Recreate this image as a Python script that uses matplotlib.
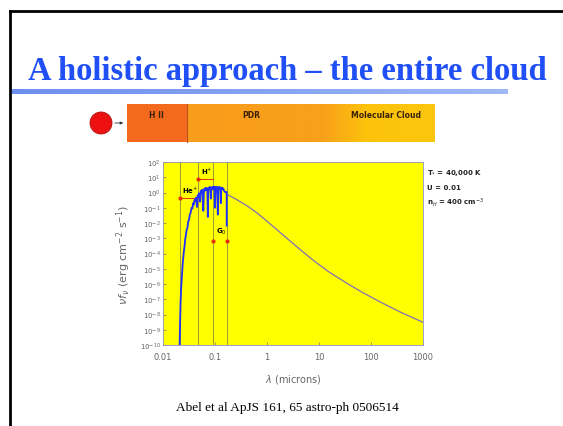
import numpy as np
import matplotlib
matplotlib.use("Agg")
import matplotlib.pyplot as plt
from matplotlib.patches import Rectangle, Circle
from matplotlib.colors import LinearSegmentedColormap

# incident + transmitted UV spectrum (log10 lambda [micron], log10 nu f_nu)
uv_loglam = [-1.680, -1.672, -1.662, -1.650, -1.635, -1.620, -1.600, -1.585,
             -1.575, -1.560, -1.548, -1.530, -1.515, -1.500, -1.485, -1.470,
             -1.450, -1.435, -1.420, -1.410, -1.395, -1.380, -1.370, -1.360,
             -1.345, -1.335, -1.320, -1.310, -1.300, -1.285, -1.275, -1.262,
             -1.250, -1.240, -1.225, -1.212, -1.200, -1.190, -1.180, -1.170,
             -1.160, -1.148, -1.138, -1.128, -1.120, -1.110, -1.100, -1.090,
             -1.080, -1.070, -1.062, -1.050, -1.040, -1.030, -1.020, -1.010,
             -1.000, -0.990, -0.980, -0.970, -0.960, -0.953, -0.946, -0.938,
             -0.930, -0.920, -0.910, -0.900, -0.889, -0.880, -0.870, -0.860,
             -0.850, -0.840, -0.830, -0.820, -0.815, -0.800, -0.785, -0.775,
             -0.775]
uv_logf = [-10.0, -8.6, -7.2, -6.2, -5.4, -4.6, -3.9, -3.5,
           -3.1, -2.8, -2.5, -2.3, -1.9, -1.8, -1.45, -1.35,
           -1.0, -1.05, -0.70, -0.80, -0.50, -0.55, -0.35, -0.45,
           -0.95, -0.20, -0.30, -0.05, -0.15, -0.60, 0.10, 0.00,
           0.18, 0.05, -1.20, 0.22, 0.10, 0.28, 0.15, 0.30,
           0.18, 0.26, -1.60, 0.30, 0.20, 0.34, 0.22, 0.36,
           -0.40, 0.32, 0.20, 0.35, 0.25, 0.38, 0.24, 0.35,
           -1.00, 0.36, 0.26, 0.38, 0.28, -0.30, -1.45, 0.34,
           0.25, 0.36, 0.28, 0.33, -0.70, 0.32, 0.22, 0.30,
           0.20, 0.26, 0.15, 0.08, 0.04, 0.04, 0.03, 0.03,
           -2.17]

# smooth long-wavelength continuum
ir_loglam = [-0.78, -0.60, -0.37, -0.20, -0.05, 0.15, 0.40, 0.65,
             0.91, 1.20, 1.55, 1.85, 2.19, 2.60, 3.00]
ir_logf = [-0.10, -0.43, -0.90, -1.32, -1.74, -2.32, -3.05, -3.78,
           -4.50, -5.23, -5.98, -6.58, -7.20, -7.90, -8.51]

# ionisation / band edges (micron)
edges = [0.0215, 0.048, 0.0912, 0.168]

# band markers: label, lambda range, level
bands = [(r"He$^{+}$", 0.0215, 0.048, 10**-0.36),
         (r"H$^{+}$", 0.048, 0.0912, 10**0.88),
         (r"G$_{0}$", 0.0912, 0.168, 10**-3.15)]

params = [r"T$_{*}$ = 40,000 K", "U = 0.01", r"n$_{H}$ = 400 cm$^{-3}$"]

regions = ["H II", "PDR", "Molecular Cloud"]

W, H = 563, 427
fig = plt.figure(figsize=(W / 100, H / 100), dpi=100)

# slide layer in pixel coordinates
bg = fig.add_axes([0, 0, 1, 1])
bg.set_xlim(0, W)
bg.set_ylim(H, 0)
bg.axis("off")

bg.plot([10, W], [11.7, 11.7], color="black", lw=2)
bg.plot([10, 10], [11.7, H], color="black", lw=2)

bg.text(28, 80, "A holistic approach \u2013 the entire cloud",
        family="Liberation Serif", weight="bold", fontsize=23.5,
        color="#1f4ff5", ha="left", va="baseline")

# title underline bar with gradient
grad = LinearSegmentedColormap.from_list("bar", ["#6d8fef", "#9fb8f7"])
bg.imshow(np.linspace(0, 1, 200)[None, :], cmap=grad, aspect="auto",
          extent=[10, 508, 95, 90], zorder=1)

# H II / PDR / molecular cloud strip
bg.add_patch(Rectangle((127, 105), 60, 38, facecolor="#f36a1e",
                       edgecolor="none", zorder=2))
strip = LinearSegmentedColormap.from_list(
    "strip", [(0, "#f99c1c"), (0.55, "#f9a01a"), (0.72, "#fcc20c"), (1, "#fcc60e")])
bg.imshow(np.linspace(0, 1, 300)[None, :], cmap=strip, aspect="auto",
          extent=[187, 435, 143, 105], zorder=2)
bg.plot([187, 187], [105, 143], color="#b85010", lw=0.8, zorder=3)
for name, xc in zip(regions, [156, 251, 386]):
    bg.text(xc, 115, name, fontsize=5.5, weight="bold", color="#3a2208",
            ha="center", va="center", zorder=4)

bg.add_patch(Circle((101, 124), 11, facecolor="#ee1111", edgecolor="#aa1010",
                    lw=0.6, zorder=3))
bg.annotate("", xy=(126, 124), xytext=(112, 124),
            arrowprops=dict(arrowstyle="-|>", color="#333333", lw=0.6,
                            mutation_scale=4), zorder=3)

bg.text(287, 408, "Abel et al ApJS 161, 65 astro-ph 0506514",
        family="Liberation Serif", fontsize=9.5, color="black",
        ha="center", va="center")

for i, s in enumerate(params):
    bg.text(427, 173 + 15 * i, s, fontsize=5, weight="bold",
            color="#222222", ha="left", va="center")

# spectrum panel
ax = fig.add_axes([163 / W, 1 - 346 / H, 260 / W, 183 / H])
ax.set_facecolor("#ffff00")
ax.set_xscale("log")
ax.set_yscale("log")
ax.set_xlim(0.01, 1000)
ax.set_ylim(1e-10, 1e2)

for e in edges:
    ax.axvline(e, color="#8a8a40", lw=0.6, zorder=1)

ax.plot(10 ** np.array(ir_loglam), 10 ** np.array(ir_logf),
        color="#8070b8", lw=0.9, zorder=2)
ax.plot(10 ** np.array(uv_loglam), 10 ** np.array(uv_logf),
        color="#2030ff", lw=1.3, zorder=3)

for lab, x0, x1, lev in bands:
    if lab.startswith("G"):
        ax.plot([x0, x1], [lev, lev], ls="none", marker="o", ms=2,
                color="#e83010", zorder=4)
        ax.text(np.sqrt(x0 * x1) * 1.05, lev * 10**0.6, lab, fontsize=5,
                weight="bold", ha="center", va="center", zorder=5)
    else:
        ax.plot([x0, x1], [lev, lev], color="#e83010", lw=0.7, zorder=2)
        ax.plot([x0], [lev], ls="none", marker="o", ms=2,
                color="#e83010", zorder=4)
        ax.text(np.sqrt(x0 * x1) * 1.05, lev * 10**0.55, lab, fontsize=5,
                weight="bold", ha="center", va="center", zorder=5)

ax.set_yticks([10.0 ** k for k in range(-10, 3)])
ax.set_yticklabels([r"$10^{%d}$" % k for k in range(-10, 3)])
ax.set_xticks([0.01, 0.1, 1, 10, 100, 1000])
ax.set_xticklabels(["0.01", "0.1", "1", "10", "100", "1000"])
ax.minorticks_off()
ax.tick_params(direction="in", length=2, width=0.5, color="#777777",
               labelcolor="#666666", labelsize=6, pad=5)
ax.tick_params(axis="y", labelsize=5, pad=1.5)
for sp in ax.spines.values():
    sp.set_color("#9090c0")
    sp.set_linewidth(0.6)

ax.set_xlabel(r"$\lambda$ (microns)", fontsize=7, color="#666666", labelpad=8)
ax.set_ylabel(r"$\nu f_{\nu}$ (erg cm$^{-2}$ s$^{-1}$)", fontsize=8,
              color="#666666", labelpad=5)

fig.savefig("out.png", dpi=100)
